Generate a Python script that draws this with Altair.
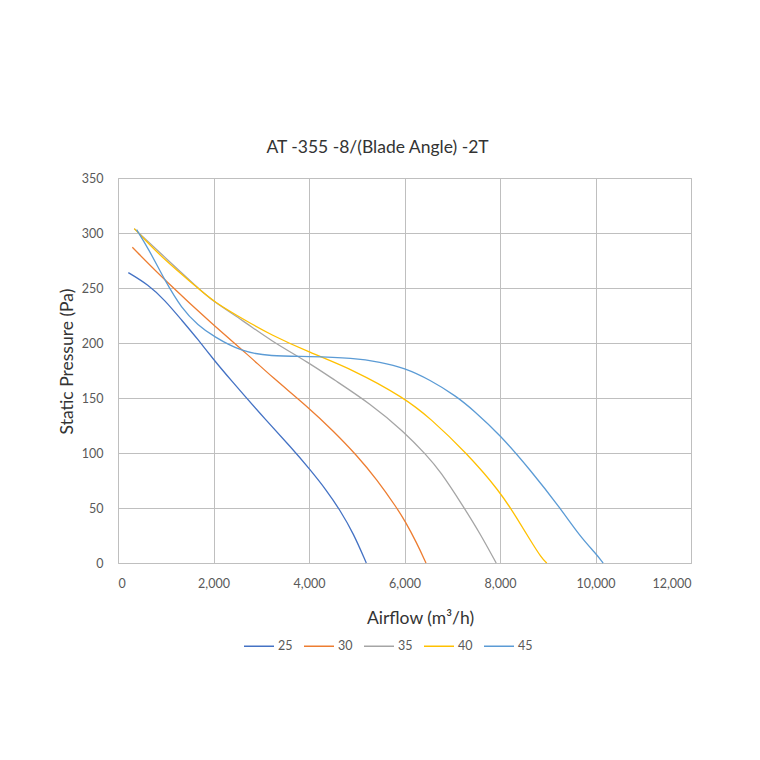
import altair as alt
import pandas as pd

# ---- data ----
angles = ["25", "30", "35", "40", "45"]
colors = ["#4472C4", "#ED7D31", "#A5A5A5", "#FFC000", "#5B9BD5"]

x_25 = [216, 635, 980, 1330, 1680, 2000, 2350, 2970, 3670, 4000, 4370, 4650, 4930, 5200]
p_25 = [264, 253, 239, 221, 203, 185, 167, 136, 103, 86, 66, 48, 27, 0]

x_30 = [300, 980, 2000, 2730, 3200, 4000, 4510, 5000, 5420, 5840, 6000, 6260, 6450]
p_30 = [287, 257, 216, 189, 170, 141, 120, 98, 76, 50, 39, 18, 0]

x_35 = [340, 980, 1650, 2000, 2600, 3200, 4000, 4510, 5280, 6000, 6460, 6740, 7230, 7580, 7920]
p_35 = [304, 278, 251, 237.5, 221, 202, 182, 167, 145, 119, 98, 84, 51.5, 27, 0]

x_40 = [340, 980, 1650, 2000, 2730, 3180, 4000, 4930, 6000, 6530, 7300, 8000, 8350, 8630, 8870, 8980]
p_40 = [304, 275, 251, 237.5, 219, 208, 191.5, 175.7, 150, 132, 100, 65, 41, 21, 4.5, 0]

x_45 = [390, 635, 980, 1330, 1680, 2000, 2590, 3180, 4000, 4930, 5490, 6000, 6530, 7090,
        7440, 8000, 8630, 9260, 9680, 10000, 10160]
p_45 = [303, 286, 257, 231.5, 216, 206, 192, 188, 187.8, 186.4, 182.7, 177.3, 166.6, 151.5,
        139, 116.6, 84.8, 50, 24, 9, 0]

x_ticks = [0, 2000, 4000, 6000, 8000, 10000, 12000]
y_ticks = [0, 50, 100, 150, 200, 250, 300, 350]

series = {"25": (x_25, p_25), "30": (x_30, p_30), "35": (x_35, p_35),
          "40": (x_40, p_40), "45": (x_45, p_45)}

rows = []
for a, (xs, ps) in series.items():
    for i, (xv, pv) in enumerate(zip(xs, ps)):
        rows.append({"angle": a, "airflow": xv, "pressure": pv, "idx": i})
df = pd.DataFrame(rows)

FONT = "Lato"

chart = alt.Chart(df).mark_line(strokeWidth=1.3, interpolate="basis").encode(
    x=alt.X("airflow:Q",
            scale=alt.Scale(domain=[0, 12000], nice=False, zero=True),
            axis=alt.Axis(values=x_ticks, format=",.0f", title="Airflow (m³/h)",
                          labelBaseline="alphabetic", labelPadding=24,
                          titleX=302, titleY=60, titleBaseline="alphabetic",
                          titleAnchor="start", titleAlign="center")),
    y=alt.Y("pressure:Q",
            scale=alt.Scale(domain=[0, 350], nice=False),
            axis=alt.Axis(values=y_ticks, title="Static Pressure (Pa)",
                          labelPadding=15,
                          titleX=-46, titleY=183, titleBaseline="alphabetic",
                          titleAngle=270, titleAlign="center")),
    color=alt.Color("angle:N",
                    scale=alt.Scale(domain=angles, range=colors),
                    legend=alt.Legend(title=None, orient="none", direction="horizontal",
                                      legendX=125, legendY=452,
                                      symbolType="stroke", symbolSize=900,
                                      symbolStrokeWidth=1.5, labelOffset=3,
                                      columnPadding=8, padding=0,
                                      labelFont=FONT, labelFontSize=12.5,
                                      labelColor="#595959")),
    order=alt.Order("idx:Q"),
).properties(
    width=573,
    height=385,
    autosize=alt.AutoSizeParams(type="none"),
    padding={"left": 110, "top": 170, "right": 61, "bottom": 189},
    title=alt.TitleParams("AT -355 -8/(Blade Angle) -2T", anchor="middle", frame="group",
                          dx=-27, offset=2, baseline="alphabetic",
                          font=FONT, fontSize=17.5, fontWeight="normal", color="#333333"),
).configure_view(
    stroke="#BFBFBF", strokeWidth=1
).configure_axis(
    grid=True, gridColor="#BFBFBF", gridWidth=1,
    domain=False, ticks=False, tickSize=0,
    labelFont=FONT, labelFontSize=12.5, labelColor="#595959",
    titleFont=FONT, titleFontSize=17.5, titleFontWeight="normal", titleColor="#333333",
)

chart.save("out.html", embed_options={"renderer": "svg", "actions": False})
